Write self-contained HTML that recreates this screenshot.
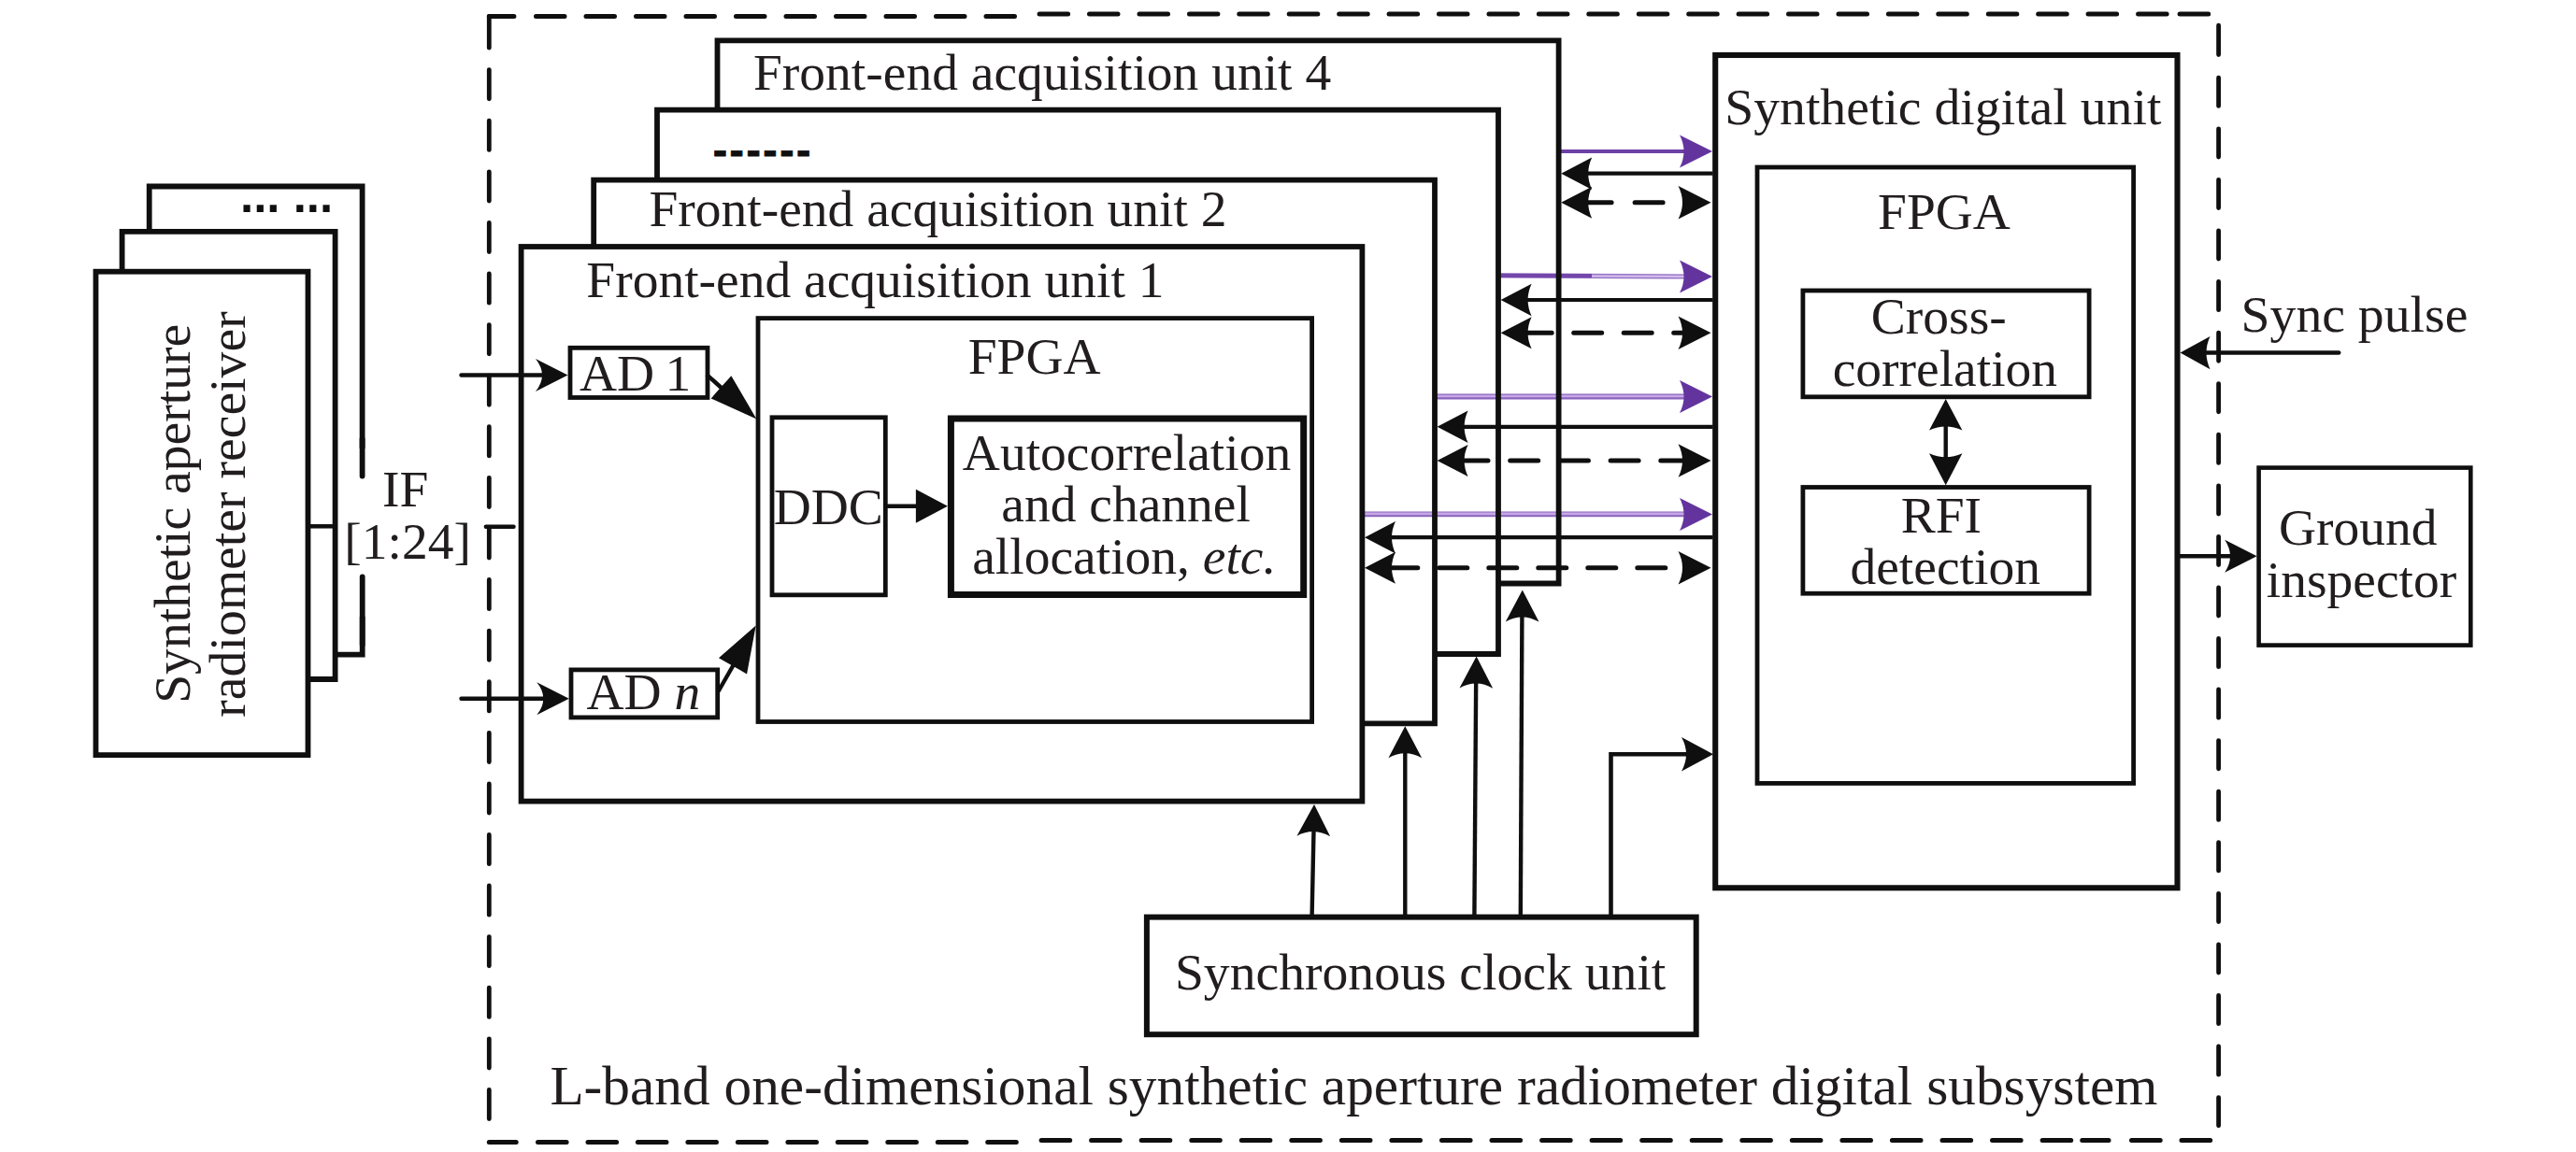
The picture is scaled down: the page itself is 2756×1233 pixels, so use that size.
<!DOCTYPE html>
<html><head><meta charset="utf-8"><title>L-band one-dimensional synthetic aperture radiometer digital subsystem</title>
<style>
html,body{margin:0;padding:0;background:#fff;}
body{width:2756px;height:1233px;overflow:hidden;}
svg{display:block;font-family:"Liberation Serif","Times New Roman",serif;fill:#211d1e;}
</style></head><body>
<svg width="2756" height="1233" viewBox="0 0 2756 1233">
<rect x="0" y="0" width="2756" height="1233" fill="#fff"/>
<polyline points="159.7,247 159.7,199.5 387.6,199.5 387.6,480" fill="none" stroke="#0f0f0f" stroke-width="5.8" stroke-linejoin="miter" />
<line x1="387.6" y1="470" x2="387.6" y2="509.6" stroke="#0f0f0f" stroke-width="5.8" stroke-linecap="round"/>
<line x1="387.7" y1="617.5" x2="387.7" y2="690" stroke="#0f0f0f" stroke-width="5.8" stroke-linecap="round"/>
<polyline points="387.7,660 387.7,700.7 358.6,700.7" fill="none" stroke="#0f0f0f" stroke-width="5.8" stroke-linejoin="miter" />
<polyline points="130.6,291 130.6,247.8 358.6,247.8 358.6,727 329.5,727" fill="none" stroke="#0f0f0f" stroke-width="5.8" stroke-linejoin="miter" />
<rect x="102.5" y="290.7" width="227.00" height="517.40" fill="none" stroke="#0f0f0f" stroke-width="5.8" />
<text x="257" y="227" font-family="Liberation Sans, Arial, sans-serif" font-weight="bold" font-size="51" text-anchor="start" fill="#0f0f0f">... ...</text>
<text transform="translate(203.1,549.8) rotate(-90)" font-size="55.6" text-anchor="middle">Synthetic aperture</text>
<text transform="translate(261.6,550.5) rotate(-90)" font-size="55.7" text-anchor="middle">radiometer receiver</text>
<text x="433.75" y="542.2" font-size="55.5" text-anchor="middle" >IF</text>
<text x="436.1" y="598.1" font-size="55.5" text-anchor="middle" >[1:24]</text>
<line x1="329.5" y1="563.3" x2="358.5" y2="563.3" stroke="#0f0f0f" stroke-width="4.5" />
<line x1="519.9" y1="563.7" x2="549.5" y2="563.7" stroke="#0f0f0f" stroke-width="4.5" stroke-linecap="round"/>
<path d="M523.3,17.50 L549.9,17.50 M573.5,17.50 L604.0,17.50 M627.0,17.50 L657.5,17.50 M680.5,17.50 L711.0,17.50 M734.0,17.50 L764.5,17.50 M787.5,17.50 L818.0,17.50 M841.0,17.50 L871.5,17.50 M894.5,17.50 L925.0,17.50 M948.0,17.50 L978.5,17.50 M1001.5,17.50 L1032.0,17.50 M1055.0,17.50 L1085.5,17.50 " fill="none" stroke="#0f0f0f" stroke-width="5.0" stroke-linecap="round"/>
<path d="M1112.1,15.00 L1142.6,15.00 M1165.5,15.00 L1196.0,15.00 M1219.0,15.00 L1249.5,15.00 M1272.4,15.00 L1302.9,15.00 M1325.8,15.00 L1356.3,15.00 M1379.2,15.00 L1409.8,15.00 M1432.7,15.00 L1463.2,15.00 M1486.1,15.00 L1516.6,15.00 M1539.5,15.00 L1570.0,15.00 M1593.0,15.00 L1623.5,15.00 M1646.4,15.00 L1676.9,15.00 M1699.8,15.00 L1730.3,15.00 M1753.3,15.00 L1783.8,15.00 M1806.7,15.00 L1837.2,15.00 M1860.1,15.00 L1890.6,15.00 M1913.5,15.00 L1944.0,15.00 M1967.0,15.00 L1997.5,15.00 M2020.4,15.00 L2050.9,15.00 M2073.8,15.00 L2104.3,15.00 M2127.3,15.00 L2157.8,15.00 M2180.7,15.00 L2211.2,15.00 M2234.1,15.00 L2264.6,15.00 M2287.6,15.00 L2318.1,15.00 M2332.1,15.00 L2362.7,15.00 " fill="none" stroke="#0f0f0f" stroke-width="5.0" stroke-linecap="round"/>
<path d="M523.3,1222.40 L552.2,1222.40 M575.5,1222.40 L606.1,1222.40 M629.0,1222.40 L659.6,1222.40 M682.4,1222.40 L713.0,1222.40 M735.9,1222.40 L766.5,1222.40 M789.4,1222.40 L820.0,1222.40 M842.9,1222.40 L873.5,1222.40 M896.3,1222.40 L926.9,1222.40 M949.8,1222.40 L980.4,1222.40 M1003.3,1222.40 L1033.9,1222.40 M1056.7,1222.40 L1087.3,1222.40 " fill="none" stroke="#0f0f0f" stroke-width="5.0" stroke-linecap="round"/>
<path d="M1114.1,1220.50 L1144.7,1220.50 M1167.6,1220.50 L1198.2,1220.50 M1221.2,1220.50 L1251.8,1220.50 M1274.8,1220.50 L1305.3,1220.50 M1328.3,1220.50 L1358.9,1220.50 M1381.8,1220.50 L1412.4,1220.50 M1435.4,1220.50 L1466.0,1220.50 M1488.9,1220.50 L1519.5,1220.50 M1542.5,1220.50 L1573.1,1220.50 M1596.0,1220.50 L1626.6,1220.50 M1649.6,1220.50 L1680.2,1220.50 M1703.1,1220.50 L1733.7,1220.50 M1756.7,1220.50 L1787.3,1220.50 M1810.2,1220.50 L1840.8,1220.50 M1863.8,1220.50 L1894.4,1220.50 M1917.3,1220.50 L1947.9,1220.50 M1970.9,1220.50 L2001.5,1220.50 M2024.4,1220.50 L2055.0,1220.50 M2078.0,1220.50 L2108.6,1220.50 M2131.5,1220.50 L2162.1,1220.50 M2185.1,1220.50 L2215.7,1220.50 M2227.7,1220.50 L2256.0,1220.50 M2280.5,1220.50 L2311.2,1220.50 M2334.0,1220.50 L2364.7,1220.50 " fill="none" stroke="#0f0f0f" stroke-width="5.0" stroke-linecap="round"/>
<path d="M523.3,17.4 L523.3,51.2 M523.3,74.6 L523.3,105.8 M523.3,129.2 L523.3,160.4 M523.3,183.8 L523.3,215.0 M523.3,238.4 L523.3,269.6 M523.3,293.0 L523.3,324.2 M523.3,347.6 L523.3,378.8 M523.3,402.1 L523.3,433.3 M523.3,456.7 L523.3,487.9 M523.3,511.3 L523.3,542.5 M523.3,565.9 L523.3,597.1 M523.3,620.5 L523.3,651.7 M523.3,675.1 L523.3,706.3 M523.3,729.7 L523.3,760.9 M523.3,784.3 L523.3,815.5 M523.3,838.9 L523.3,870.1 M523.3,893.5 L523.3,924.7 M523.3,948.0 L523.3,979.2 M523.3,1002.6 L523.3,1033.8 M523.3,1057.2 L523.3,1088.4 M523.3,1111.8 L523.3,1143.0 M523.3,1166.4 L523.3,1197.6 " fill="none" stroke="#0f0f0f" stroke-width="4.8" stroke-linecap="round"/>
<path d="M2373.6,27.2 L2373.6,58.5 M2373.6,83.2 L2373.6,113.4 M2373.6,137.8 L2373.6,168.0 M2373.6,192.3 L2373.6,222.5 M2373.6,246.9 L2373.6,277.1 M2373.6,301.5 L2373.6,331.7 M2373.6,356.1 L2373.6,386.3 M2373.6,410.6 L2373.6,440.8 M2373.6,465.2 L2373.6,495.4 M2373.6,519.8 L2373.6,550.0 M2373.6,574.3 L2373.6,604.5 M2373.6,628.9 L2373.6,659.1 M2373.6,683.5 L2373.6,713.7 M2373.6,738.0 L2373.6,768.2 M2373.6,792.6 L2373.6,822.8 M2373.6,847.2 L2373.6,877.4 M2373.6,901.7 L2373.6,931.9 M2373.6,956.3 L2373.6,986.5 M2373.6,1010.9 L2373.6,1041.1 M2373.6,1065.5 L2373.6,1095.7 M2373.6,1120.0 L2373.6,1150.2 M2373.6,1174.6 L2373.6,1204.8 " fill="none" stroke="#0f0f0f" stroke-width="4.8" stroke-linecap="round"/>
<line x1="1665.6" y1="162" x2="1805" y2="162" stroke="#6d41a6" stroke-width="3.8" />
<line x1="1601" y1="294.8" x2="1805" y2="296.0" stroke="#9a78c8" stroke-width="5.2" />
<line x1="1601" y1="294.8" x2="1703" y2="295.2" stroke="#7447ab" stroke-width="4.2" />
<line x1="1703" y1="295.40000000000003" x2="1805" y2="296.0" stroke="#d8c4f0" stroke-width="2.0" />
<line x1="1533" y1="424.5" x2="1805" y2="424.5" stroke="#8b63bd" stroke-width="5.9" />
<line x1="1533" y1="424.0" x2="1805" y2="424.0" stroke="#c6a9e8" stroke-width="2.6" />
<line x1="1455.4" y1="550.4" x2="1805" y2="550.4" stroke="#8b63bd" stroke-width="5.9" />
<line x1="1455.4" y1="549.9" x2="1805" y2="549.9" stroke="#c6a9e8" stroke-width="2.6" />
<polyline points="767.5,117.7 767.5,43.4 1667.6,43.4 1667.6,624.5 1603,624.5" fill="none" stroke="#0f0f0f" stroke-width="5.8" stroke-linejoin="miter" />
<polyline points="703,192.7 703,117.7 1603,117.7 1603,700 1535,700" fill="none" stroke="#0f0f0f" stroke-width="5.8" stroke-linejoin="miter" />
<polyline points="635.2,264 635.2,192.7 1535,192.7 1535,774.3 1457.4,774.3" fill="none" stroke="#0f0f0f" stroke-width="5.8" stroke-linejoin="miter" />
<rect x="557.6" y="264" width="899.80" height="593.60" fill="none" stroke="#0f0f0f" stroke-width="5.8" />
<text x="806" y="96.2" font-size="55.5" text-anchor="start" >Front-end acquisition unit 4</text>
<text x="694.4" y="242.3" font-size="55.5" text-anchor="start" >Front-end acquisition unit 2</text>
<text x="627.3" y="318" font-size="55.5" text-anchor="start" >Front-end acquisition unit 1</text>
<text x="762.7" y="175.5" font-family="Liberation Sans, Arial, sans-serif" font-size="46" font-weight="bold" letter-spacing="2.56" fill="#0f0f0f" stroke="#0f0f0f" stroke-width="0.8" stroke-linejoin="round">------</text>
<rect x="811" y="340.6" width="592.60" height="431.90" fill="none" stroke="#0f0f0f" stroke-width="4.8" />
<text x="1106.7" y="400.2" font-size="55.5" text-anchor="middle" >FPGA</text>
<rect x="826" y="446.8" width="121.30" height="190.00" fill="none" stroke="#0f0f0f" stroke-width="4.8" />
<text x="886.3" y="561.3" font-size="55.5" text-anchor="middle" >DDC</text>
<rect x="1017.4" y="448" width="377.30" height="188.50" fill="none" stroke="#0f0f0f" stroke-width="7" />
<text x="1205.5" y="503.4" font-size="55.5" text-anchor="middle" >Autocorrelation</text>
<text x="1204.6" y="557.8" font-size="55.5" text-anchor="middle" >and channel</text>
<text x="1202.8" y="613.5" font-size="55.5" text-anchor="middle" >allocation, <tspan font-style="italic">etc.</tspan></text>
<line x1="947" y1="541.7" x2="990" y2="541.7" stroke="#0f0f0f" stroke-width="4.4" />
<path d="M1013.90,541.70 L979.90,523.70 Q979.90,532.70 979.90,541.70 Q979.90,550.70 979.90,559.70 Z" fill="#0f0f0f"/>
<rect x="610" y="372.3" width="147.00" height="53.20" fill="none" stroke="#0f0f0f" stroke-width="4.8" />
<text x="679.6" y="417.7" font-size="55.5" text-anchor="middle" word-spacing="-2.5">AD 1</text>
<rect x="611" y="716.9" width="156.70" height="51.00" fill="none" stroke="#0f0f0f" stroke-width="4.8" />
<text x="688.3" y="759.1" font-size="55.5" text-anchor="middle" >AD <tspan font-style="italic">n</tspan></text>
<line x1="493.5" y1="401.5" x2="585" y2="401.5" stroke="#0f0f0f" stroke-width="4.4" stroke-linecap="round"/>
<path d="M607.50,401.50 L573.00,384.00 Q580.00,392.75 580.00,401.50 Q580.00,410.25 573.00,419.00 Z" fill="#0f0f0f"/>
<line x1="493.5" y1="747.7" x2="585" y2="747.7" stroke="#0f0f0f" stroke-width="4.4" stroke-linecap="round"/>
<path d="M608.80,747.70 L574.30,730.20 Q581.30,738.95 581.30,747.70 Q581.30,756.45 574.30,765.20 Z" fill="#0f0f0f"/>
<line x1="756" y1="400.9" x2="780" y2="422.5" stroke="#0f0f0f" stroke-width="4.4" />
<path d="M809.40,448.50 L782.37,402.30 Q776.94,408.34 771.50,414.37 Q766.06,420.41 760.63,426.45 Z" fill="#0f0f0f"/>
<line x1="768.5" y1="740" x2="788" y2="706" stroke="#0f0f0f" stroke-width="4.4" />
<path d="M808.70,669.40 L768.96,704.33 Q776.48,708.60 784.00,712.87 Q791.52,717.15 799.05,721.42 Z" fill="#0f0f0f"/>
<path d="M1832.00,162.00 L1797.00,144.50 Q1801.50,153.25 1801.50,162.00 Q1801.50,170.75 1797.00,179.50 Z" fill="#63349e"/>
<line x1="1695.6" y1="185.7" x2="1832.5" y2="185.7" stroke="#0f0f0f" stroke-width="4.2" />
<path d="M1670.20,185.70 L1703.20,202.95 Q1699.20,194.32 1699.20,185.70 Q1699.20,177.07 1703.20,168.45 Z" fill="#0f0f0f"/>
<path d="M1749.1,216.70 L1779.1,216.70 M1694.1,216.70 L1724.1,216.70 " fill="none" stroke="#0f0f0f" stroke-width="5" stroke-linecap="round"/>
<path d="M1670.20,216.70 L1703.20,233.70 Q1699.20,225.20 1699.20,216.70 Q1699.20,208.20 1703.20,199.70 Z" fill="#0f0f0f"/>
<path d="M1830.50,216.70 L1795.50,198.95 Q1800.00,207.82 1800.00,216.70 Q1800.00,225.57 1795.50,234.45 Z" fill="#0f0f0f"/>
<path d="M1832.00,296.00 L1797.00,278.50 Q1801.50,287.25 1801.50,296.00 Q1801.50,304.75 1797.00,313.50 Z" fill="#63349e"/>
<line x1="1631" y1="321" x2="1832.5" y2="321" stroke="#0f0f0f" stroke-width="4.2" />
<path d="M1605.60,321.00 L1638.60,338.25 Q1634.60,329.62 1634.60,321.00 Q1634.60,312.38 1638.60,303.75 Z" fill="#0f0f0f"/>
<path d="M1790.7,356.20 L1805.0,356.20 M1737.2,356.20 L1767.2,356.20 M1683.7,356.20 L1713.7,356.20 M1630.2,356.20 L1660.2,356.20 " fill="none" stroke="#0f0f0f" stroke-width="5" stroke-linecap="round"/>
<path d="M1605.60,356.20 L1638.60,373.20 Q1634.60,364.70 1634.60,356.20 Q1634.60,347.70 1638.60,339.20 Z" fill="#0f0f0f"/>
<path d="M1830.50,356.20 L1795.50,338.45 Q1800.00,347.32 1800.00,356.20 Q1800.00,365.07 1795.50,373.95 Z" fill="#0f0f0f"/>
<path d="M1832.00,424.50 L1797.00,407.00 Q1801.50,415.75 1801.50,424.50 Q1801.50,433.25 1797.00,442.00 Z" fill="#63349e"/>
<line x1="1563" y1="456.8" x2="1832.5" y2="456.8" stroke="#0f0f0f" stroke-width="4.2" />
<path d="M1537.60,456.80 L1570.60,474.05 Q1566.60,465.43 1566.60,456.80 Q1566.60,448.18 1570.60,439.55 Z" fill="#0f0f0f"/>
<path d="M1776.8,493.00 L1805.0,493.00 M1723.1,493.00 L1753.1,493.00 M1669.4,493.00 L1699.4,493.00 M1615.7,493.00 L1645.7,493.00 M1562.0,493.00 L1592.0,493.00 " fill="none" stroke="#0f0f0f" stroke-width="5" stroke-linecap="round"/>
<path d="M1537.60,493.00 L1570.60,510.00 Q1566.60,501.50 1566.60,493.00 Q1566.60,484.50 1570.60,476.00 Z" fill="#0f0f0f"/>
<path d="M1830.50,493.00 L1795.50,475.25 Q1800.00,484.12 1800.00,493.00 Q1800.00,501.88 1795.50,510.75 Z" fill="#0f0f0f"/>
<path d="M1832.00,550.40 L1797.00,532.90 Q1801.50,541.65 1801.50,550.40 Q1801.50,559.15 1797.00,567.90 Z" fill="#63349e"/>
<line x1="1485.4" y1="575.2" x2="1832.5" y2="575.2" stroke="#0f0f0f" stroke-width="4.2" />
<path d="M1460.00,575.20 L1493.00,592.45 Q1489.00,583.83 1489.00,575.20 Q1489.00,566.58 1493.00,557.95 Z" fill="#0f0f0f"/>
<path d="M1751.8,607.80 L1781.8,607.80 M1698.8,607.80 L1728.8,607.80 M1645.8,607.80 L1675.8,607.80 M1592.8,607.80 L1622.8,607.80 M1539.8,607.80 L1569.8,607.80 M1486.8,607.80 L1516.8,607.80 " fill="none" stroke="#0f0f0f" stroke-width="5" stroke-linecap="round"/>
<path d="M1460.00,607.80 L1493.00,624.80 Q1489.00,616.30 1489.00,607.80 Q1489.00,599.30 1493.00,590.80 Z" fill="#0f0f0f"/>
<path d="M1830.50,607.80 L1795.50,590.05 Q1800.00,598.92 1800.00,607.80 Q1800.00,616.67 1795.50,625.55 Z" fill="#0f0f0f"/>
<rect x="1835.2" y="59" width="494.30" height="891.30" fill="none" stroke="#0f0f0f" stroke-width="6.1" />
<text x="2078.8" y="133.2" font-size="55.7" text-anchor="middle" >Synthetic digital unit</text>
<rect x="1880" y="179" width="402.60" height="659.40" fill="none" stroke="#0f0f0f" stroke-width="4.8" />
<text x="2080" y="245" font-size="55.5" text-anchor="middle" >FPGA</text>
<rect x="1928.9" y="311" width="306.20" height="113.80" fill="none" stroke="#0f0f0f" stroke-width="4.8" />
<text x="2074.3" y="356.8" font-size="55.5" text-anchor="middle" >Cross-</text>
<text x="2080.9" y="412.7" font-size="55.5" text-anchor="middle" >correlation</text>
<rect x="1928.9" y="521.5" width="306.20" height="113.70" fill="none" stroke="#0f0f0f" stroke-width="4.8" />
<text x="2076.9" y="569.5" font-size="55.5" text-anchor="middle" >RFI</text>
<text x="2081.2" y="625.1" font-size="55.5" text-anchor="middle" >detection</text>
<line x1="2081.7" y1="455" x2="2081.7" y2="492" stroke="#0f0f0f" stroke-width="4.4" />
<path d="M2081.70,427.00 L2064.00,460.50 Q2072.85,456.50 2081.70,456.50 Q2090.55,456.50 2099.40,460.50 Z" fill="#0f0f0f"/>
<path d="M2081.70,519.30 L2099.40,485.30 Q2090.55,489.30 2081.70,489.30 Q2072.85,489.30 2064.00,485.30 Z" fill="#0f0f0f"/>
<text x="2519" y="355" font-size="55.7" text-anchor="middle" >Sync pulse</text>
<line x1="2360" y1="377.6" x2="2502.2" y2="377.6" stroke="#0f0f0f" stroke-width="4.5" stroke-linecap="round"/>
<path d="M2332.50,377.60 L2364.50,395.25 Q2360.50,386.43 2360.50,377.60 Q2360.50,368.78 2364.50,359.95 Z" fill="#0f0f0f"/>
<rect x="2416.6" y="500.6" width="226.70" height="190.00" fill="none" stroke="#0f0f0f" stroke-width="4.6" />
<text x="2522.8" y="583.1" font-size="55.5" text-anchor="middle" >Ground</text>
<text x="2526.5" y="639.4" font-size="55.5" text-anchor="middle" >inspector</text>
<line x1="2332" y1="595.2" x2="2388" y2="595.2" stroke="#0f0f0f" stroke-width="4.5" />
<path d="M2414.60,595.20 L2380.20,577.70 Q2386.00,586.45 2386.00,595.20 Q2386.00,603.95 2380.20,612.70 Z" fill="#0f0f0f"/>
<rect x="1226.9" y="981.6" width="587.80" height="125.60" fill="none" stroke="#0f0f0f" stroke-width="6" />
<text x="1519.6" y="1058.6" font-size="55.65" text-anchor="middle" >Synchronous clock unit</text>
<line x1="1403.6" y1="981" x2="1405.52" y2="889" stroke="#0f0f0f" stroke-width="4.4" />
<path d="M1406.00,861.00 L1387.47,894.64 Q1396.50,889.82 1405.42,889.99 Q1414.34,890.17 1423.17,895.35 Z" fill="#0f0f0f"/>
<line x1="1503.3" y1="981" x2="1503.3" y2="805.2" stroke="#0f0f0f" stroke-width="4.4" />
<path d="M1503.30,777.20 L1485.45,811.20 Q1494.38,806.20 1503.30,806.20 Q1512.22,806.20 1521.15,811.20 Z" fill="#0f0f0f"/>
<line x1="1577.4" y1="981" x2="1579.1599999999999" y2="730.6" stroke="#0f0f0f" stroke-width="4.4" />
<path d="M1579.60,702.60 L1561.48,736.46 Q1570.45,731.53 1579.37,731.60 Q1588.30,731.67 1597.18,736.74 Z" fill="#0f0f0f"/>
<line x1="1626.8" y1="981" x2="1628.3999999999999" y2="659.5" stroke="#0f0f0f" stroke-width="4.4" />
<path d="M1628.80,631.50 L1610.76,665.40 Q1619.71,660.45 1628.63,660.50 Q1637.56,660.55 1646.46,665.60 Z" fill="#0f0f0f"/>
<polyline points="1723.5,981 1723.5,807.3 1805,807.3" fill="none" stroke="#0f0f0f" stroke-width="4.6" stroke-linejoin="miter" />
<path d="M1833.00,807.30 L1799.00,789.05 Q1804.00,798.17 1804.00,807.30 Q1804.00,816.42 1799.00,825.55 Z" fill="#0f0f0f"/>
<text x="1448.4" y="1181.8" font-size="59.33" text-anchor="middle" >L-band one-dimensional synthetic aperture radiometer digital subsystem</text>
</svg>
</body></html>
